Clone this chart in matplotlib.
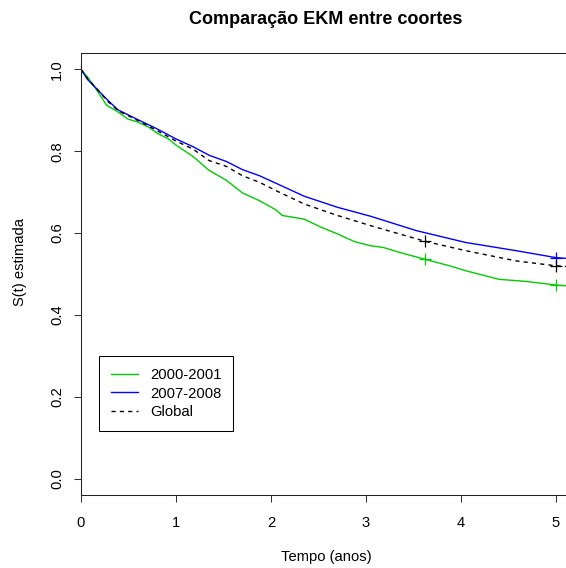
import numpy as np
import matplotlib
matplotlib.use("Agg")
import matplotlib.pyplot as plt

plt.rcParams['font.family'] = ['Liberation Sans', 'DejaVu Sans']

# curvas de Kaplan-Meier (tempo em anos, S(t))
t_0001 = [0.0, 0.07, 0.15, 0.27, 0.39, 0.49, 0.60, 0.71, 0.81, 0.92, 1.0, 1.18, 1.35,
          1.53, 1.70, 1.88, 2.05, 2.12, 2.35, 2.53, 2.70, 2.88, 3.05, 3.18, 3.35, 3.62,
          3.88, 4.05, 4.40, 4.68, 5.0, 5.12]
s_0001 = [1.0, 0.981, 0.955, 0.912, 0.896, 0.879, 0.871, 0.859, 0.843, 0.830, 0.815, 0.787, 0.753,
          0.729, 0.698, 0.679, 0.657, 0.643, 0.634, 0.614, 0.598, 0.579, 0.569, 0.565, 0.553, 0.536,
          0.520, 0.508, 0.487, 0.482, 0.473, 0.471]

t_0708 = [0.0, 0.07, 0.18, 0.28, 0.39, 0.60, 0.78, 0.83, 1.0, 1.18, 1.35, 1.53, 1.70, 1.88,
          2.05, 2.35, 2.70, 3.05, 3.53, 4.05, 4.58, 5.0, 5.12]
s_0708 = [1.0, 0.975, 0.949, 0.925, 0.901, 0.877, 0.857, 0.851, 0.830, 0.811, 0.790, 0.775, 0.755, 0.740,
          0.722, 0.690, 0.663, 0.641, 0.606, 0.577, 0.557, 0.540, 0.538]

t_glob = [0.0, 0.07, 0.18, 0.28, 0.39, 0.60, 0.78, 1.0, 1.18, 1.35, 1.53, 1.70, 1.88, 2.05,
          2.35, 2.70, 3.05, 3.62, 4.05, 4.58, 5.0, 5.12]
s_glob = [1.0, 0.977, 0.949, 0.922, 0.899, 0.875, 0.853, 0.825, 0.805, 0.777, 0.763, 0.740, 0.724, 0.704,
          0.671, 0.643, 0.618, 0.580, 0.557, 0.532, 0.520, 0.518]

# tempos censurados marcados com +
cens_0001 = [3.62, 5.0]
cens_0708 = [5.0]
cens_glob = [3.62, 5.0]

verde = '#00CD00'
azul = '#0000FF'
fs = 10.6

fig = plt.figure(figsize=(5.66, 5.68), dpi=100)
ax = fig.add_axes([81/566, 73/568, 490/566, 442/568])

ax.plot(t_0001, s_0001, color=verde, lw=1.0, label='2000-2001')
ax.plot(t_0708, s_0708, color=azul, lw=1.0, label='2007-2008')
ax.plot(t_glob, s_glob, color='black', lw=1.0, ls=(0, (3, 3)), label='Global')

for tt, ss, cc, col in [(t_0001, s_0001, cens_0001, verde),
                        (t_0708, s_0708, cens_0708, azul),
                        (t_glob, s_glob, cens_glob, 'black')]:
    ax.plot(cc, np.interp(cc, tt, ss), ls='none', marker='+', ms=9, mew=0.9, color=col)

ax.set_xlim(0, 5.158)
ax.set_ylim(-0.04, 1.04)
ax.set_xticks([0, 1, 2, 3, 4, 5])
ax.set_yticks([0.0, 0.2, 0.4, 0.6, 0.8, 1.0])
ax.set_yticklabels(['0.0', '0.2', '0.4', '0.6', '0.8', '1.0'], rotation=90, va='center')
ax.tick_params(axis='both', direction='out', length=5, width=0.75, color='#333333',
               labelsize=fs)
ax.tick_params(axis='x', pad=10)
ax.tick_params(axis='y', pad=7)
ax.spines['right'].set_visible(False)
for s in ['left', 'top', 'bottom']:
    ax.spines[s].set_linewidth(0.75)
    ax.spines[s].set_color('#222222')

leg = ax.legend(loc='upper left', bbox_to_anchor=(99/566, 1 - 356/568),
                bbox_transform=fig.transFigure, fontsize=fs, frameon=True,
                fancybox=False, framealpha=1, edgecolor='black', borderpad=0.8,
                labelspacing=0.33, handlelength=1.85, handletextpad=0.8, borderaxespad=0)
leg.get_frame().set_linewidth(0.75)

fig.text(326/566, 1 - 19/568, 'Comparação EKM entre coortes', ha='center', va='center',
         fontsize=13, fontweight='bold')
fig.text(326/566, 1 - 557/568, 'Tempo (anos)', ha='center', va='center', fontsize=fs)
fig.text(20/566, 1 - 262/568, 'S(t) estimada', ha='center', va='center', rotation=90,
         fontsize=fs)

fig.savefig('out.png', dpi=100)
